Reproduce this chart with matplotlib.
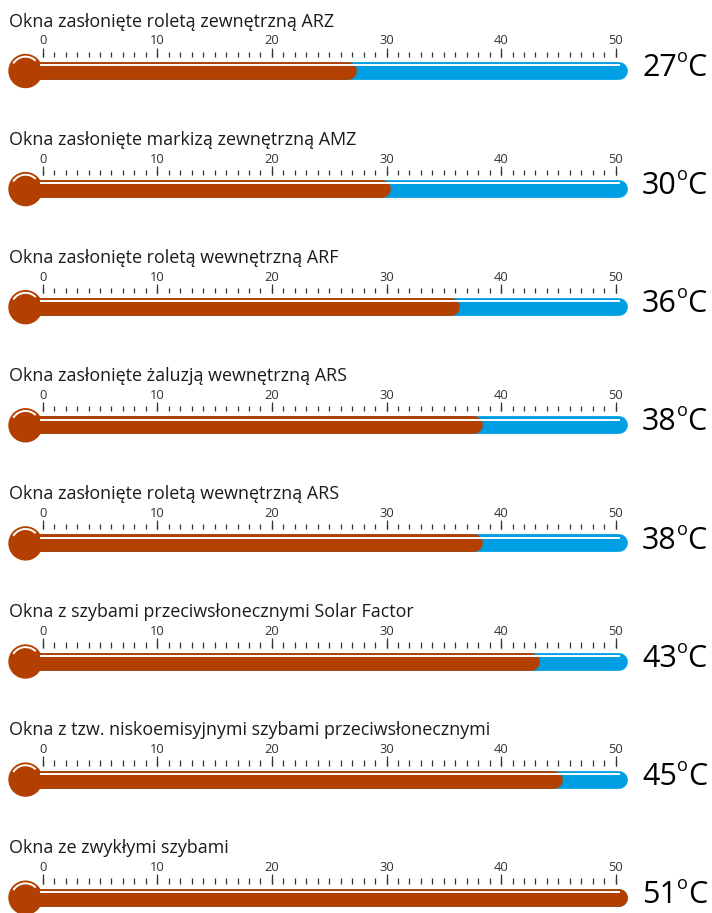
import numpy as np
import matplotlib
matplotlib.use('Agg')
import matplotlib.pyplot as plt
from matplotlib.patches import Circle, Arc

# data
titles = [
    'Okna zasłonięte roletą zewnętrzną ARZ',
    'Okna zasłonięte markizą zewnętrzną AMZ',
    'Okna zasłonięte roletą wewnętrzną ARF',
    'Okna zasłonięte żaluzją wewnętrzną ARS',
    'Okna zasłonięte roletą wewnętrzną ARS',
    'Okna z szybami przeciwsłonecznymi Solar Factor',
    'Okna z tzw. niskoemisyjnymi szybami przeciwsłonecznymi',
    'Okna ze zwykłymi szybami',
]
temps = [27, 30, 36, 38, 38, 43, 45, 51]
scale_max = 50
major_ticks = [0, 10, 20, 30, 40, 50]
minor_ticks = np.arange(0, 51, 1)

RED = '#B34000'
BLUE = '#009FE3'

plt.rcParams['font.family'] = ['Open Sans', 'DejaVu Sans']

W, H = 712, 913
u = 11.46          # pixels per degree
x0 = 42.7          # pixel position of 0
row_h = 118.1 / u
first = 71 / u

fig = plt.figure(figsize=(W / 100, H / 100), dpi=100)
ax = fig.add_axes([0, 0, 1, 1])
ax.set_xlim(-x0 / u, (W - x0) / u)
ax.set_ylim(H / u, 0)
ax.axis('off')

R = 16.5 / u
for i in range(len(titles)):
    yc = first + i * row_h
    t = temps[i]
    # tube
    ax.plot([-1.5, scale_max + 0.3], [yc, yc], color=BLUE, lw=12.8, solid_capstyle='round', zorder=1)
    ax.plot([-1.5, min(t, scale_max + 0.65) - 0.35], [yc, yc], color=RED, lw=12.8, solid_capstyle='round', zorder=2)
    ax.plot([-0.24, scale_max + 0.4], [yc - 0.5, yc - 0.5], color='white', lw=1.4, solid_capstyle='butt', zorder=4)
    # bulb
    ax.add_patch(Circle((-1.5, yc), R, color=RED, zorder=3))
    ax.add_patch(Arc((-1.5, yc), 2 * 0.87 * R, 2 * 0.87 * R, theta1=212, theta2=315, color='white', lw=1.4, zorder=5))
    # scale
    ax.vlines(minor_ticks, yc - 1.68, yc - 1.22, color='#333333', lw=0.9)
    ax.vlines(major_ticks, yc - 2.05, yc - 1.22, color='#333333', lw=0.9)
    for m in major_ticks:
        ax.text(m, yc - 2.62, str(m), ha='center', va='center', fontsize=9.3, color='#333333')
    ax.text(-2.94, yc - 4.3, titles[i], ha='left', va='center', fontsize=12.9, color='#1a1a1a')
    # value: number, raised small "o", then C
    num = ax.text(52.3, yc - 0.25, str(t), ha='left', va='center', fontsize=22, color='black')
    deg = ax.annotate('o', xy=(1, 1), xycoords=num, xytext=(0.3, 3.6), textcoords='offset points',
                      ha='left', va='top', fontsize=13, color='black')
    ax.annotate('C', xy=(1, 0), xycoords=(deg, num), xytext=(-0.5, 0), textcoords='offset points',
                ha='left', va='bottom', fontsize=22, color='black')

fig.savefig('out.png', dpi=100)
